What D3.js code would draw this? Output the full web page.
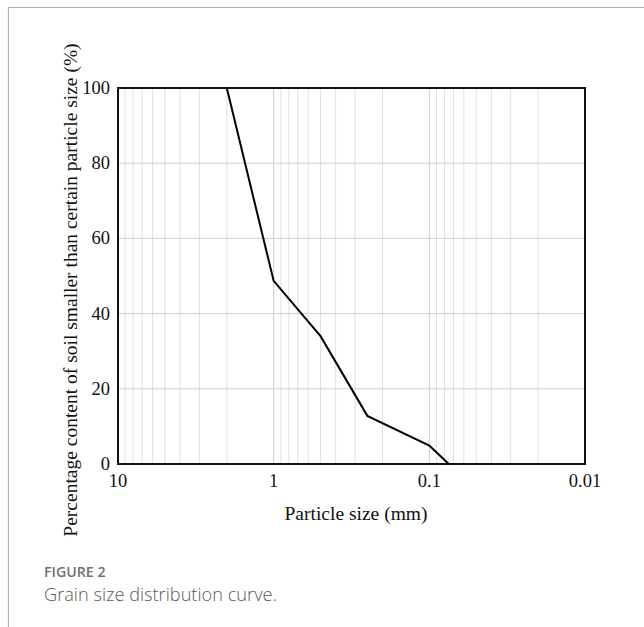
<!DOCTYPE html>
<html><head><meta charset="utf-8">
<script src="https://cdn.jsdelivr.net/npm/d3@7"></script>
<style>body{margin:0;background:#fff}svg{display:block}</style>
</head><body>
<svg id="c" width="644" height="627"></svg>
<script>
const particleSize = [2, 1, 0.5, 0.25, 0.1, 0.075];
const percentFiner = [100, 48.7, 34.0, 12.8, 4.9, 0];
const xTickValues = [10, 1, 0.1, 0.01];
const xTickLabels = ["10", "1", "0.1", "0.01"];
const yTickValues = [0, 20, 40, 60, 80, 100];

const svg = d3.select("#c");
const m = {l:118, r:585, t:88, b:464};
const x = d3.scaleLog().domain([10, 0.01]).range([m.l, m.r]);
const y = d3.scaleLinear().domain([0, 100]).range([m.b, m.t]);

// card border
svg.append("path").attr("d","M644,7.5H8.5V627").attr("fill","none").attr("stroke","#b3b3b3").attr("stroke-width",1.2);

// minor grid
const minor = [];
[10,1,0.1].forEach(d=>{ for(let k=2;k<=9;k++) minor.push(d*k/10); });
const g = svg.append("g");
g.selectAll("line.mn").data(minor).join("line")
  .attr("x1",d=>x(d)).attr("x2",d=>x(d)).attr("y1",m.t).attr("y2",m.b)
  .attr("stroke","#e0e0e0").attr("stroke-width",1);
g.selectAll("line.mj").data([1,0.1]).join("line")
  .attr("x1",d=>x(d)).attr("x2",d=>x(d)).attr("y1",m.t).attr("y2",m.b)
  .attr("stroke","#cccccc").attr("stroke-width",1);
g.selectAll("line.h").data(yTickValues.filter(d=>d>0&&d<100)).join("line")
  .attr("x1",m.l).attr("x2",m.r).attr("y1",d=>y(d)).attr("y2",d=>y(d))
  .attr("stroke","#d0d0d0").attr("stroke-width",1);

// frame
svg.append("rect").attr("x",m.l).attr("y",m.t).attr("width",m.r-m.l).attr("height",m.b-m.t)
  .attr("fill","none").attr("stroke","#111").attr("stroke-width",2);

// curve
svg.append("path").datum(particleSize.map((d,i)=>[d,percentFiner[i]]))
  .attr("d", d3.line().x(d=>x(d[0])).y(d=>y(d[1])))
  .attr("fill","none").attr("stroke","#000").attr("stroke-width",2);

// axes labels
const font = "'Liberation Serif','Times New Roman',serif";
svg.append("g").selectAll("text").data(xTickValues).join("text")
  .attr("x",d=>x(d)).attr("y",487).attr("text-anchor","middle")
  .attr("font-family",font).attr("font-size",18.5).attr("fill","#111")
  .text((d,i)=>xTickLabels[i]);
svg.append("g").selectAll("text").data(yTickValues).join("text")
  .attr("x",110).attr("y",d=>y(d)+6).attr("text-anchor","end")
  .attr("font-family",font).attr("font-size",18.5).attr("fill","#111")
  .text(d=>d);
svg.append("text").attr("x",356).attr("y",520).attr("text-anchor","middle")
  .attr("font-family",font).attr("font-size",19.5).attr("fill","#111").text("Particle size (mm)");
svg.append("text").attr("transform","translate(77,290) rotate(-90)").attr("text-anchor","middle")
  .attr("font-family",font).attr("font-size",19.5).attr("fill","#111")
  .text("Percentage content of soil smaller than certain particle size (%)");

// caption
svg.append("text").attr("x",44).attr("y",577).attr("font-family","'Open Sans',sans-serif")
  .attr("font-size",14.2).attr("font-weight",600).attr("fill","#707070").text("FIGURE 2");
svg.append("text").attr("x",44).attr("y",601).attr("font-family","'Open Sans',sans-serif")
  .attr("font-size",18.2).attr("font-weight",300).attr("fill","#5a5a5a").text("Grain size distribution curve.");
</script>
</body></html>
